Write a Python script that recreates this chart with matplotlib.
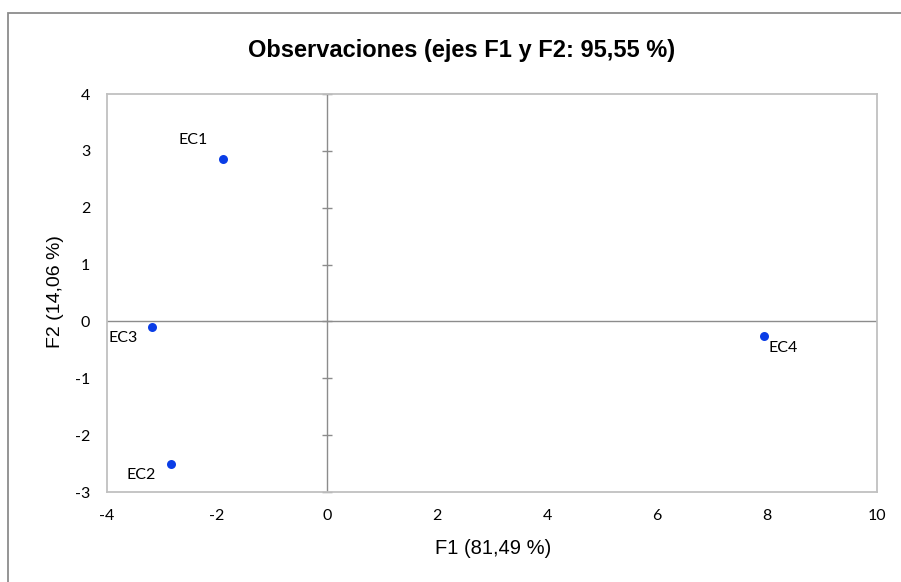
import matplotlib
matplotlib.use("Agg")
import matplotlib.pyplot as plt
from matplotlib.patches import Rectangle

plt.rcParams["axes.unicode_minus"] = False

# observaciones
labels = ["EC1", "EC2", "EC3", "EC4"]
f1 = [-1.89, -2.83, -3.19, 7.94]
f2 = [2.86, -2.51, -0.10, -0.25]
label_offsets = {"EC1": (-15, 12, "right", "bottom"),
                 "EC2": (-15, -11, "right", "center"),
                 "EC3": (-14, -11, "right", "center"),
                 "EC4": (5, -12, "left", "center")}

xticks = [-4, -2, 0, 2, 4, 6, 8, 10]
yticks = [-3, -2, -1, 0, 1, 2, 3, 4]

W, H = 901, 582
fig = plt.figure(figsize=(W / 100, H / 100), dpi=100)
fig.patches.append(Rectangle((8 / W, -0.1), 1.1, (H - 13) / H + 0.1,
                             transform=fig.transFigure, fill=False,
                             edgecolor="#8c8c8c", lw=1.3))

ax = fig.add_axes([107 / W, 1 - 492 / H, (877 - 107) / W, (492 - 94) / H])
ax.set_xlim(-4, 10)
ax.set_ylim(-3, 4)
for s in ax.spines.values():
    s.set_color("#c0c0c0")
    s.set_linewidth(1.3)

ax.set_xticks(xticks)
ax.set_yticks(yticks)
ax.tick_params(length=0)
ax.tick_params(axis="x", pad=12)
ax.tick_params(axis="y", pad=12)
for t in ax.get_xticklabels() + ax.get_yticklabels():
    t.set_fontfamily("Lato")
    t.set_fontsize(11.5)

# ejes en cero, marcas solo en el eje vertical
ax.axhline(0, color="#8c8c8c", lw=1, zorder=1)
ax.axvline(0, color="#8c8c8c", lw=1, zorder=1)
ax.plot([0] * len(yticks), yticks, ls="none", marker="_", ms=7, mew=1,
        color="#8c8c8c", clip_on=False, zorder=1)

ax.scatter(f1, f2, s=42, color="#0a3de6", zorder=3, linewidths=0)
for lab, x, y in zip(labels, f1, f2):
    dx, dy, ha, va = label_offsets[lab]
    ax.annotate(lab, (x, y), xytext=(dx, dy), textcoords="offset pixels",
                ha=ha, va=va, fontsize=11.5, fontfamily="Lato", color="black")

fig.text(462 / W, 1 - 50 / H, "Observaciones (ejes F1 y F2: 95,55 %)",
         ha="center", va="center", fontsize=17, fontweight="bold",
         fontfamily="Liberation Sans")
fig.text(493 / W, 1 - 548 / H, "F1 (81,49 %)", ha="center", va="center",
         fontsize=14.5, fontfamily="Liberation Sans")
fig.text(55 / W, 1 - 292 / H, "F2 (14,06 %)", ha="center", va="center",
         rotation=90, fontsize=14, fontfamily="Liberation Sans")

fig.savefig("out.png", dpi=100)
